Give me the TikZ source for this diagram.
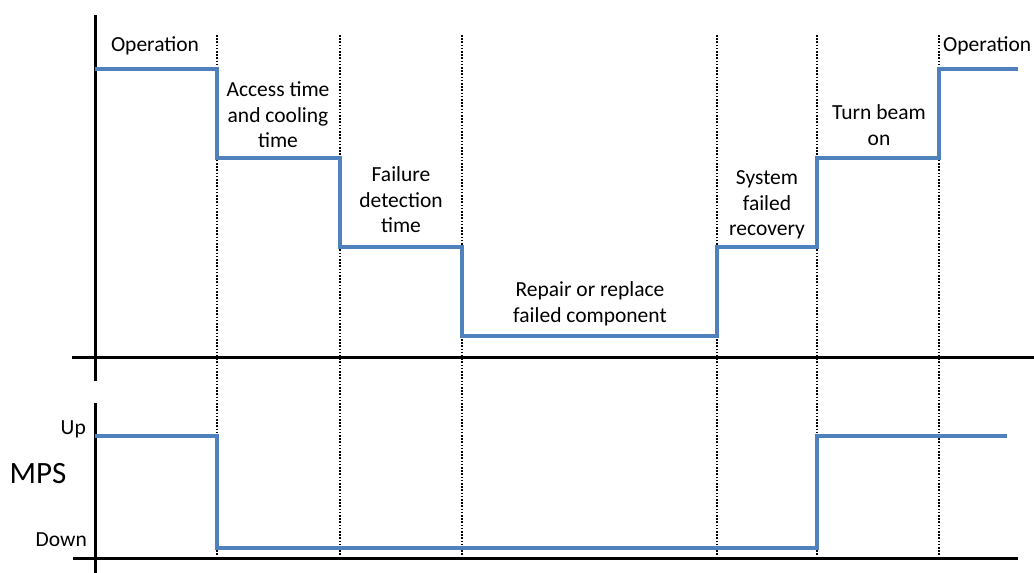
\documentclass[tikz,border=0pt]{standalone}
\usepackage{fontspec}
\setmainfont{Carlito}
\begin{document}
\begin{tikzpicture}[x=1pt,y=-1pt,
  axis/.style={black,line width=3pt},
  sig/.style={color={rgb,255:red,79;green,129;blue,189},line width=3.2pt,line join=miter},
  sep/.style={black,line width=1.6pt,dash pattern=on 1.6pt off 1.6pt},
  lbl/.style={inner sep=0pt,align=center,font=\fontsize{21.5}{25.5}\selectfont},
  every node/.style={text=black}]
\useasboundingbox (0,0) rectangle (1034,573);
% separators
\foreach \x in {217,340,462,717,817,939}
  \draw[sep] (\x,35) -- (\x,555);
% axes
\draw[axis] (95,15) -- (95,381);
\draw[axis] (72,357) -- (1034,357);
\draw[axis] (95,403) -- (95,573);
\draw[axis] (73,558) -- (1018,558);
% top signal
\draw[sig] (95,69) -- (217,69) -- (217,158) -- (340,158) -- (340,247) -- (462,247) -- (462,336) -- (717,336) -- (717,247) -- (817,247) -- (817,158) -- (939,158) -- (939,69) -- (1018,69);
% MPS signal
\draw[sig] (95,436) -- (217,436) -- (217,548) -- (817,548) -- (817,436) -- (1007,436);
% labels
\node[lbl] (op1) at (155,46) {Operation};
\node[lbl] (acc) at (278,115) {Access time\\and cooling\\time};
\node[lbl] (fd) at (401,200) {Failure\\detection\\time};
\node[lbl] (rep) at (590,304) {Repair or replace\\failed component};
\node[lbl] (sys) at (767,205) {System\\failed\\recovery};
\node[lbl] (tb) at (879,125) {Turn beam\\on};
\node[lbl,anchor=west] (op2) at (943,46) {Operation};
\node[lbl,anchor=east] (up) at (86,429) {Up};
\node[lbl,anchor=east] (down) at (87,540) {Down};
\node[inner sep=0pt,font=\fontsize{31}{36}\selectfont] (mps) at (38,474) {MPS};
\end{tikzpicture}
\end{document}
